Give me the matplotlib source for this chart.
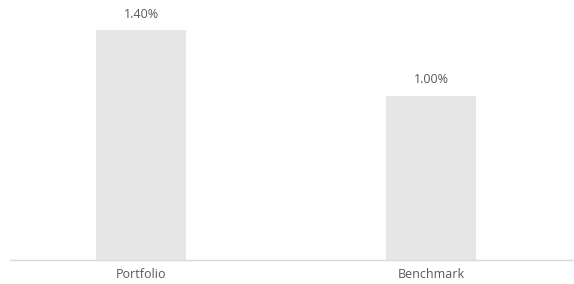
import matplotlib.pyplot as plt

categories = ['Portfolio', 'Benchmark']
values = [1.40, 1.00]
labels = ['1.40%', '1.00%']

plt.rcParams['font.family'] = ['Open Sans', 'DejaVu Sans']

fig = plt.figure(figsize=(5.74, 2.84), dpi=100)
ax = fig.add_axes([10 / 574, 24 / 284, 564 / 574, 260 / 284])

x = range(len(categories))
bars = ax.bar(x, values, width=0.31, color='#e6e6e6')

for b, lab in zip(bars, labels):
    ax.annotate(lab, (b.get_x() + b.get_width() / 2, b.get_height()),
                xytext=(0, 7), textcoords='offset points',
                ha='center', va='bottom', fontsize=9, color='#595959')

ax.set_xlim(-0.452, 1.493)
ax.set_ylim(0, 1.585)
ax.set_xticks(list(x))
ax.set_xticklabels(categories, fontsize=9, color='#595959')
ax.tick_params(axis='x', length=0, pad=6)
ax.set_yticks([])

for s in ['top', 'right', 'left']:
    ax.spines[s].set_visible(False)
ax.spines['bottom'].set_color('#d9d9d9')
ax.spines['bottom'].set_linewidth(1)

fig.savefig('out.png', dpi=100)
